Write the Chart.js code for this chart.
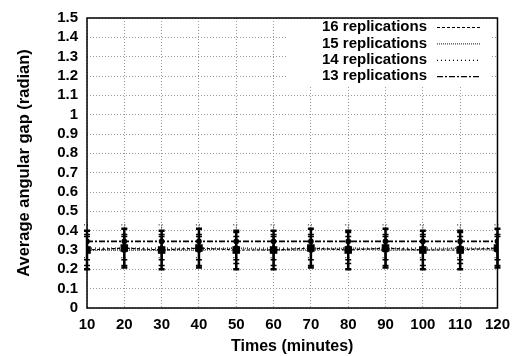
<!DOCTYPE html>
<html>
<head>
<meta charset="utf-8">
<script src="https://cdn.jsdelivr.net/npm/chart.js@4/dist/chart.umd.min.js"></script>
<style>
  html, body { margin: 0; padding: 0; background: #fff; }
  #wrap { width: 518px; height: 356px; }
</style>
</head>
<body>
<div id="wrap"><canvas id="chart-area" width="518" height="356"></canvas></div>
<script>
// minutes
var times = [10, 20, 30, 40, 50, 60, 70, 80, 90, 100, 110, 120]

// average angular gap (radian)
var rep16 = [0.30, 0.31, 0.30, 0.31, 0.30, 0.30, 0.31, 0.30, 0.31, 0.30, 0.30, 0.31]
var rep15 = [0.30, 0.30, 0.30, 0.30, 0.31, 0.30, 0.30, 0.31, 0.30, 0.30, 0.31, 0.30]
var rep14 = [0.31, 0.31, 0.31, 0.31, 0.31, 0.31, 0.31, 0.31, 0.31, 0.31, 0.31, 0.31]
var rep13 = [0.345, 0.345, 0.345, 0.345, 0.345, 0.345, 0.345, 0.345, 0.345, 0.345, 0.345, 0.345]

// error bar half widths
var err16 = [0.10, 0.10, 0.10, 0.10, 0.10, 0.10, 0.10, 0.10, 0.10, 0.10, 0.10, 0.10]
var err15 = [0.08, 0.08, 0.08, 0.08, 0.08, 0.08, 0.08, 0.08, 0.08, 0.08, 0.08, 0.08]
var err14 = [0.06, 0.06, 0.06, 0.06, 0.06, 0.06, 0.06, 0.06, 0.06, 0.06, 0.06, 0.06]
var err13 = [0.085, 0.085, 0.085, 0.085, 0.085, 0.085, 0.085, 0.085, 0.085, 0.085, 0.085, 0.085]

var seriesNames = ['16 replications', '15 replications', '14 replications', '13 replications']

var FONT = 'Liberation Sans, Arial, sans-serif'

function pts(vals) {
	return vals.map(function (v, i) { return { x: times[i], y: v } })
}

// gnuplot style error bars
var errorBars = {
	id: 'errorBars',
	afterDatasetsDraw: function (chart) {
		var ctx = chart.ctx
		var xs = chart.scales.x, ys = chart.scales.y
		ctx.save()
		chart.data.datasets.forEach(function (ds) {
			ctx.strokeStyle = '#000'
			ctx.lineWidth = ds.errWidth
			ctx.setLineDash(ds.errDash)
			ds.data.forEach(function (p, i) {
				var x = xs.getPixelForValue(p.x)
				var lo = ys.getPixelForValue(p.y - ds.err[i])
				var hi = ys.getPixelForValue(p.y + ds.err[i])
				ctx.beginPath()
				ctx.moveTo(x, lo); ctx.lineTo(x, hi)
				ctx.moveTo(x - 3, lo); ctx.lineTo(x + 3, lo)
				ctx.moveTo(x - 3, hi); ctx.lineTo(x + 3, hi)
				ctx.stroke()
			})
		})
		ctx.restore()
	}
}

// frame + key box in the top right
var frameAndKey = {
	id: 'frameAndKey',
	afterDraw: function (chart) {
		var ctx = chart.ctx, a = chart.chartArea
		ctx.save()
		ctx.fillStyle = '#fff'
		ctx.fillRect(286, a.top + 1, 204, 68)
		ctx.font = 'bold 15px ' + FONT
		ctx.textAlign = 'right'
		ctx.textBaseline = 'middle'
		chart.data.datasets.forEach(function (ds, i) {
			var y = 27 + i * 16.4
			ctx.fillStyle = '#000'
			ctx.fillText(ds.label, 427, y)
			ctx.strokeStyle = ds.borderColor
			ctx.lineWidth = 1.2
			ctx.setLineDash(ds.borderDash)
			ctx.beginPath()
			ctx.moveTo(437, y + 0.5); ctx.lineTo(481, y + 0.5)
			ctx.stroke()
		})
		ctx.setLineDash([])
		ctx.strokeStyle = '#000'
		ctx.lineWidth = 1.5
		ctx.strokeRect(a.left, a.top, a.right - a.left, a.bottom - a.top)
		ctx.restore()
	}
}

var config = {
	type: 'line',
	data: {
		datasets: [{
			label: seriesNames[0],
			data: pts(rep16),
			err: err16,
			errWidth: 2.5,
			errDash: [],
			borderColor: '#000',
			borderWidth: 1.2,
			borderDash: [3, 2],
			pointStyle: 'rect',
			pointRadius: 4.5,
			pointBackgroundColor: '#000',
			pointBorderColor: '#000'
		}, {
			label: seriesNames[1],
			data: pts(rep15),
			err: err15,
			errWidth: 1.5,
			errDash: [],
			borderColor: '#444',
			borderWidth: 1.5,
			borderDash: [1, 1],
			pointStyle: 'crossRot',
			pointRadius: 3,
			pointBorderColor: '#000'
		}, {
			label: seriesNames[2],
			data: pts(rep14),
			err: err14,
			errWidth: 1.5,
			errDash: [],
			borderColor: '#000',
			borderWidth: 1.2,
			borderDash: [1, 3],
			pointStyle: 'triangle',
			pointRadius: 3,
			pointBackgroundColor: '#000',
			pointBorderColor: '#000'
		}, {
			label: seriesNames[3],
			data: pts(rep13),
			err: err13,
			errWidth: 1,
			errDash: [1, 2],
			borderColor: '#000',
			borderWidth: 1.8,
			borderDash: [6, 2, 2, 2],
			pointStyle: 'circle',
			pointRadius: 2,
			pointBackgroundColor: '#000',
			pointBorderColor: '#000'
		}]
	},
	options: {
		responsive: false,
		animation: false,
		layout: { padding: { top: 15, right: 19, left: 0, bottom: 0 } },
		plugins: {
			legend: { display: false },
			tooltip: { enabled: false }
		},
		scales: {
			x: {
				type: 'linear',
				min: 10,
				max: 120,
				afterFit: function (s) { s.height = 48 },
				ticks: {
					stepSize: 10,
					autoSkip: false,
					color: '#000',
					padding: 8,
					maxRotation: 0,
					font: { family: FONT, size: 15, weight: 'bold' }
				},
				grid: { color: '#999', lineWidth: 1, drawTicks: false },
				border: { display: false, dash: [1, 2] },
				title: {
					display: true,
					text: 'Times (minutes)',
					color: '#000',
					padding: { top: 0, bottom: 0 },
					font: { family: FONT, size: 16, weight: 'bold' }
				}
			},
			y: {
				min: 0,
				max: 1.5,
				afterFit: function (s) { s.width = 87 },
				ticks: {
					stepSize: 0.1,
					autoSkip: false,
					color: '#000',
					padding: 9,
					font: { family: FONT, size: 15, weight: 'bold' },
					callback: function (v) { return Math.round(v * 10) / 10 }
				},
				grid: { color: '#999', lineWidth: 1, drawTicks: false },
				border: { display: false, dash: [1, 2] },
				title: {
					display: true,
					text: 'Average angular gap (radian)',
					color: '#000',
					padding: { top: 15, bottom: 0 },
					font: { family: FONT, size: 16.5, weight: 'bold' }
				}
			}
		}
	},
	plugins: [errorBars, frameAndKey]
}

window.onload = function () {
	var ctx = document.getElementById('chart-area').getContext('2d')
	window.myChart = new Chart(ctx, config)
}
</script>
</body>
</html>
